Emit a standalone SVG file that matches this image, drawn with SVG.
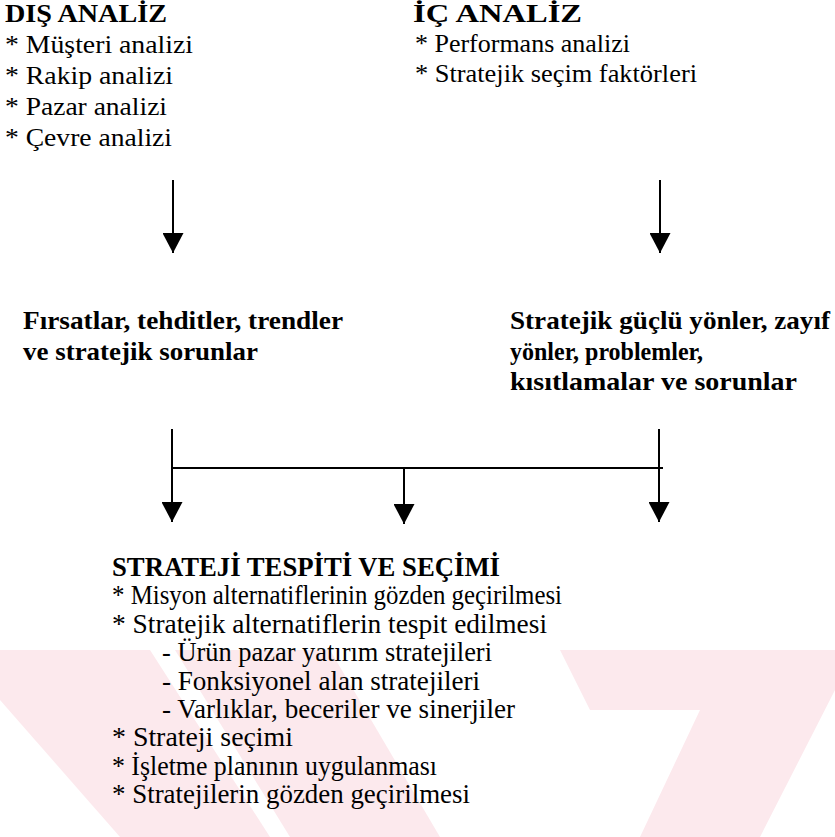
<svg xmlns="http://www.w3.org/2000/svg" width="835" height="837" viewBox="0 0 835 837">
  <style>
    .tx { font-family: 'Times New Roman', 'Liberation Serif', Tinos, 'Noto Serif', 'DejaVu Serif', FreeSerif, Times, serif; fill: #000; }
    .h { font-weight: bold; font-size: 26px; }
    .t { font-size: 26px; }
    .b { font-size: 27px; }
    .hb { font-weight: bold; font-size: 27px; }
    .conn { stroke: #000; stroke-width: 2; fill: none; }
    .wm { fill: #fce9ed; }
  </style>
  <defs>
    <marker id="ah" viewBox="0 0 20 21" refX="20" refY="10.5" markerWidth="20" markerHeight="21" markerUnits="userSpaceOnUse" orient="auto">
      <path d="M0,0 L20,10.5 L0,21 Z" fill="#000"/>
    </marker>
  </defs>
  <rect width="835" height="837" fill="#fff"/>
  <g id="watermark">
    <polygon class="wm" points="0,650 150,650 270,837 120,837 0,700"/>
    <polygon class="wm" points="175,650 330,650 440,837 290,837"/>
    <polygon class="wm" points="560,650 835,650 835,690 760,837 640,837 700,710 590,710"/>
  </g>
  <g id="dis-analiz" class="tx">
    <text class="h" x="5" y="22" textLength="162" lengthAdjust="spacingAndGlyphs">DIŞ ANALİZ</text>
    <text class="t" x="5" y="53" textLength="188" lengthAdjust="spacingAndGlyphs">* Müşteri analizi</text>
    <text class="t" x="5" y="84" textLength="168" lengthAdjust="spacingAndGlyphs">* Rakip analizi</text>
    <text class="t" x="5" y="115" textLength="162" lengthAdjust="spacingAndGlyphs">* Pazar analizi</text>
    <text class="t" x="5" y="146" textLength="167" lengthAdjust="spacingAndGlyphs">* Çevre analizi</text>
  </g>
  <g id="ic-analiz" class="tx">
    <text class="h" x="413" y="22" textLength="169" lengthAdjust="spacingAndGlyphs">İÇ ANALİZ</text>
    <text class="t" x="415" y="52" textLength="215" lengthAdjust="spacingAndGlyphs">* Performans analizi</text>
    <text class="t" x="415" y="82" textLength="282" lengthAdjust="spacingAndGlyphs">* Stratejik seçim faktörleri</text>
  </g>
  <g id="firsatlar" class="tx">
    <text class="h" x="23" y="329" textLength="320" lengthAdjust="spacingAndGlyphs">Fırsatlar, tehditler, trendler</text>
    <text class="h" x="23" y="360" textLength="235" lengthAdjust="spacingAndGlyphs">ve stratejik sorunlar</text>
  </g>
  <g id="guclu-yonler" class="tx">
    <text class="h" x="510" y="329" textLength="320" lengthAdjust="spacingAndGlyphs">Stratejik güçlü yönler, zayıf</text>
    <text class="h" x="510" y="360" textLength="193" lengthAdjust="spacingAndGlyphs">yönler, problemler,</text>
    <text class="h" x="510" y="390" textLength="287" lengthAdjust="spacingAndGlyphs">kısıtlamalar ve sorunlar</text>
  </g>
  <g id="strateji-tespiti" class="tx">
    <text class="hb" x="112" y="576" textLength="388" lengthAdjust="spacingAndGlyphs">STRATEJİ TESPİTİ VE SEÇİMİ</text>
    <text class="b" x="112" y="604" textLength="450" lengthAdjust="spacingAndGlyphs">* Misyon alternatiflerinin gözden geçirilmesi</text>
    <text class="b" x="112" y="633" textLength="435" lengthAdjust="spacingAndGlyphs">* Stratejik alternatiflerin tespit edilmesi</text>
    <text class="b" x="162" y="661" textLength="330" lengthAdjust="spacingAndGlyphs">- Ürün pazar yatırım stratejileri</text>
    <text class="b" x="162" y="690" textLength="318" lengthAdjust="spacingAndGlyphs">- Fonksiyonel alan stratejileri</text>
    <text class="b" x="162" y="718" textLength="353" lengthAdjust="spacingAndGlyphs">- Varlıklar, beceriler ve sinerjiler</text>
    <text class="b" x="112" y="746" textLength="181" lengthAdjust="spacingAndGlyphs">* Strateji seçimi</text>
    <text class="b" x="112" y="775" textLength="325" lengthAdjust="spacingAndGlyphs">* İşletme planının uygulanması</text>
    <text class="b" x="112" y="803" textLength="358" lengthAdjust="spacingAndGlyphs">* Stratejilerin gözden geçirilmesi</text>
  </g>
  <g id="connectors">
    <line class="conn" x1="173" y1="180" x2="173" y2="253" marker-end="url(#ah)"/>
    <line class="conn" x1="660" y1="180" x2="660" y2="253" marker-end="url(#ah)"/>
    <line class="conn" x1="172" y1="429" x2="172" y2="522" marker-end="url(#ah)"/>
    <line class="conn" x1="659" y1="429" x2="659" y2="522" marker-end="url(#ah)"/>
    <line class="conn" x1="172" y1="468" x2="663" y2="468"/>
    <line class="conn" x1="404" y1="468" x2="404" y2="524" marker-end="url(#ah)"/>
  </g>
</svg>
